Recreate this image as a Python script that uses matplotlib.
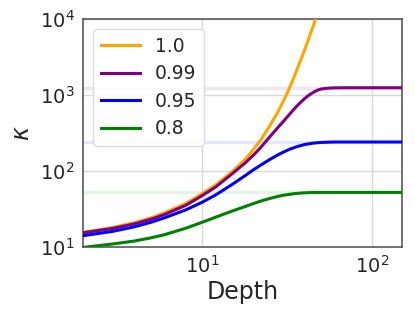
import matplotlib
matplotlib.use("Agg")
import matplotlib.pyplot as plt

# values (depth -> kappa)
depth_orange = [2, 3, 4, 5, 6, 8, 10, 12, 15, 18, 20, 22, 25, 27.5, 30, 32, 35, 40, 45, 48]
kappa_orange = [15.5, 18, 20.8, 24, 28, 37, 50, 65, 97, 143, 190, 250, 390, 560, 820, 1110, 1780, 3850, 8000, 12500]

depth_purple = [2, 3, 4, 5, 6, 8, 10, 12, 15, 18, 20, 22, 25, 28, 30, 33, 36, 38, 40, 42, 44, 46, 48, 50, 55, 60, 70, 150]
kappa_purple = [15.3, 17.5, 20, 23, 26.5, 35, 47, 61, 91, 128, 160, 200, 280, 375, 445, 570, 710, 800, 890, 975,
                1045, 1110, 1160, 1195, 1228, 1240, 1245, 1245]

depth_blue = [2, 3, 4, 5, 6, 8, 10, 12, 15, 18, 20, 22, 25, 28, 30, 33, 36, 40, 45, 50, 60, 150]
kappa_blue = [14.0, 16, 18.3, 21, 24, 30.5, 38.5, 48, 66, 87, 103, 118, 141, 163, 176, 194, 208, 222, 232, 237, 240, 240]

depth_green = [2, 3, 4, 5, 6, 8, 10, 12, 15, 18, 20, 22, 25, 28, 30, 35, 40, 45, 50, 150]
kappa_green = [9.8, 10.9, 11.9, 13.1, 14.4, 17.5, 21, 24.5, 29.5, 34, 37, 39.8, 43.3, 46.2, 47.7, 50.2, 51.4, 51.9, 52, 52]

alphas = ["1.0", "0.99", "0.95", "0.8"]
colors = ["orange", "purple", "blue", "green"]
limits = [None, 1245, 240, 52]

plt.rcParams['font.family'] = ['DejaVu Sans']
fig = plt.figure(figsize=(4.15, 3.12), dpi=100)
ax = fig.add_axes([0.2, 0.209, 0.769, 0.73])

series = [(depth_orange, kappa_orange), (depth_purple, kappa_purple),
          (depth_blue, kappa_blue), (depth_green, kappa_green)]

# faint asymptote lines
for lim, c in zip(limits, colors):
    if lim is not None:
        ax.axhline(lim, color=c, alpha=0.1, lw=2.5, zorder=1)

for (d, k), lab, c in zip(series, alphas, colors):
    ax.plot(d, k, color=c, lw=2.2, label=lab, zorder=3, solid_joinstyle='round')

ax.set_xscale('log')
ax.set_yscale('log')
ax.set_xlim(2, 150)
ax.set_ylim(10, 1e4)
ax.grid(True, which='major', color='0.85', lw=1)
ax.minorticks_off()
ax.tick_params(length=0, labelsize=14, colors='0.15', pad=6)
for s in ax.spines.values():
    s.set_color('0.35')
    s.set_linewidth(1.2)

ax.set_xlabel('Depth', fontsize=17, color='0.15', labelpad=2)
ax.set_ylabel(r'$\kappa$', fontsize=17, color='0.15')

leg = ax.legend(loc='upper left', fontsize=13.5, frameon=True, fancybox=True,
                edgecolor='0.85', framealpha=0.9, handlelength=2.1,
                borderaxespad=0.55, labelspacing=0.45)
for t in leg.get_texts():
    t.set_color('0.15')

fig.savefig('out.png', dpi=100)
